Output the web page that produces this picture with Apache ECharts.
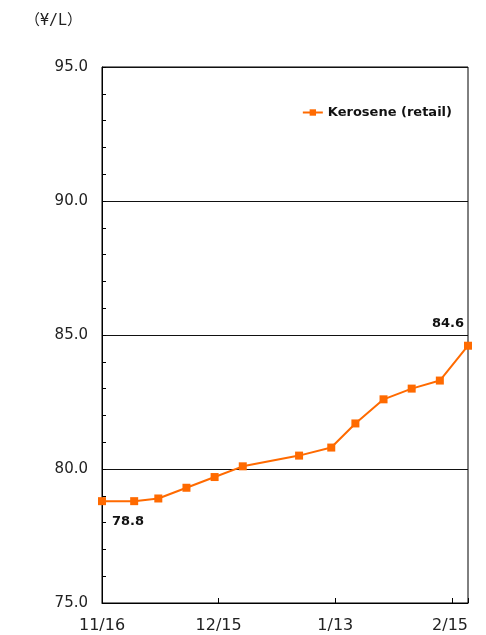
<!DOCTYPE html>
<html>
<head>
<meta charset="utf-8">
<script src="https://cdn.jsdelivr.net/npm/echarts@6/dist/echarts.min.js"></script>
<style>
  html, body { margin: 0; padding: 0; background: #fff; }
  #chart { width: 486px; height: 635px; }
</style>
</head>
<body>
<div id="chart"></div>
<script>
// Weekly survey dates (winter season) and kerosene retail price, yen per litre
const surveyDates = ['2020-11-16', '2020-11-24', '2020-11-30', '2020-12-07', '2020-12-14', '2020-12-21',
                     '2021-01-04', '2021-01-12', '2021-01-18', '2021-01-25', '2021-02-01', '2021-02-08', '2021-02-15'];
const keroseneRetail = [78.8, 78.8, 78.9, 79.3, 79.7, 80.1, 80.5, 80.8, 81.7, 82.6, 83.0, 83.3, 84.6];
const yTicks = [75, 80, 85, 90, 95];
const seriesName = 'Kerosene (retail)';
const unitLabel = '（¥/L）';

const DAY = 86400000;
const start = Date.parse(surveyDates[0]);
const dayOffset = d => Math.round((Date.parse(d) - start) / DAY);
const lastDay = dayOffset(surveyDates[surveyDates.length - 1]);
const TICK_DAYS = 29;

function mdLabel(day) {
  const dt = new Date(start + day * DAY);
  return (dt.getUTCMonth() + 1) + '/' + dt.getUTCDate();
}

const font = '"DejaVu Sans", sans-serif';

const points = keroseneRetail.map((v, i) => {
  const item = { value: [dayOffset(surveyDates[i]), v] };
  if (i === 0) {
    item.label = { show: true, position: 'bottom', offset: [26, 5] };
  } else if (i === keroseneRetail.length - 1) {
    item.label = { show: true, position: 'top', offset: [-20, -7] };
  }
  return item;
});

const chart = echarts.init(document.getElementById('chart'), null, { renderer: 'canvas' });
chart.setOption({
  animation: false,
  backgroundColor: '#fff',
  title: {
    text: unitLabel,
    left: 20, top: 9,
    textStyle: {
      fontSize: 15, fontWeight: 'normal', color: '#222',
      fontFamily: '"DejaVu Sans Mono", "Noto Sans CJK JP", monospace'
    }
  },
  legend: {
    data: [seriesName],
    right: 29, top: 101,
    itemWidth: 20, itemHeight: 8, itemGap: 6,
    textStyle: { fontSize: 13, fontWeight: 'bold', color: '#111', fontFamily: font }
  },
  grid: {
    left: 102, right: 18, top: 67, bottom: 32,
    show: true, borderColor: '#000', borderWidth: 1, backgroundColor: 'transparent'
  },
  xAxis: {
    type: 'value',
    min: 0, max: lastDay, interval: TICK_DAYS,
    axisLine: { show: true, lineStyle: { color: '#000', width: 1 } },
    axisTick: { show: true, inside: true, length: 5, lineStyle: { color: '#000' } },
    splitLine: { show: false },
    axisLabel: {
      color: '#222', fontSize: 16, margin: 15, fontFamily: font,
      alignMaxLabel: 'right',
      // dated ticks every 29 days; the closing survey date labels the right edge
      formatter: v => {
        if (v === lastDay) return mdLabel(v);
        if (v % TICK_DAYS === 0 && lastDay - v >= 10) return mdLabel(v);
        return '';
      }
    }
  },
  yAxis: {
    type: 'value',
    min: yTicks[0], max: yTicks[yTicks.length - 1], interval: 5,
    axisLine: { show: true, lineStyle: { color: '#000', width: 1 } },
    axisTick: { show: true, inside: true, length: 4, lineStyle: { color: '#000' } },
    minorTick: { show: true, splitNumber: 5, length: 4, lineStyle: { color: '#000' } },
    splitLine: { show: true, lineStyle: { color: '#111', width: 1 } },
    axisLabel: {
      color: '#222', fontSize: 15, margin: 14, fontFamily: font,
      formatter: v => v.toFixed(1)
    }
  },
  series: [{
    name: seriesName,
    type: 'line',
    data: points,
    symbol: 'rect',
    symbolSize: 8,
    lineStyle: { color: '#FF6A00', width: 2 },
    itemStyle: { color: '#FF6A00' },
    label: {
      show: false,
      color: '#111', fontWeight: 'bold', fontSize: 13, fontFamily: font,
      formatter: p => p.value[1].toFixed(1)
    }
  }]
});
</script>
</body>
</html>
